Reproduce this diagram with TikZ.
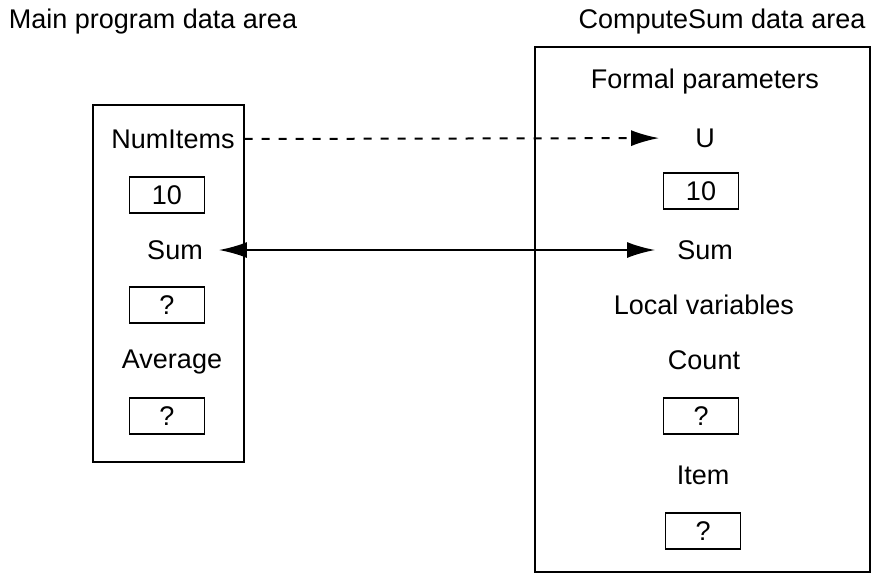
\documentclass[tikz,border=0pt]{standalone}
\usepackage{fontspec}
\setmainfont{Liberation Sans}
\usetikzlibrary{arrows.meta, positioning}

\begin{document}
\begin{tikzpicture}[
        x=1pt, y=-1pt,
        txt/.style={font=\fontsize{27}{32}\selectfont, inner sep=2pt},
        cell/.style={rectangle, draw=black, line width=1.8pt,
                     minimum width=75pt, minimum height=36pt,
                     font=\fontsize{27}{32}\selectfont, inner sep=0pt},
        area/.style={rectangle, draw=black, line width=1.8pt, inner sep=0pt},
        arrow/.style={-{Latex[length=28pt, width=16pt]}, line width=2pt},
    ]
    \useasboundingbox (0,0) rectangle (875,574);

    % ====== 主程序数据区（左） ======
    \node[area, minimum width=151pt, minimum height=357pt] (main) at (168.5,283.5) {};
    \node[txt] (maintitle) at (153,22) {Main program data area};
    \node[txt] (numitems) at (173,139) {NumItems};
    \node[cell] (numval) at (167,195) {10};
    \node[txt] (sumL) at (175,250) {Sum};
    \node[cell] (sumval) at (167,305) {?};
    \node[txt] (average) at (172,362) {Average};
    \node[cell] (avgval) at (167,416) {?};

    % ====== ComputeSum 数据区（右） ======
    \node[area, minimum width=335pt, minimum height=525pt] (cs) at (702.5,309.5) {};
    \node[txt] (cstitle) at (722,22) {ComputeSum data area};
    \node[txt] (formal) at (705,82) {Formal parameters};
    \node[txt] (u) at (705,138) {U};
    \node[cell] (uval) at (701,191) {10};
    \node[txt] (sumR) at (705,250) {Sum};
    \node[txt] (local) at (704,305) {Local variables};
    \node[txt] (count) at (704,360) {Count};
    \node[cell] (countval) at (701,416) {?};
    \node[txt] (item) at (703,475) {Item};
    \node[cell] (itemval) at (703,531) {?};

    % ====== 箭头 ======
    \draw[arrow, dash pattern=on 8pt off 9pt, shorten <=8pt, shorten >=34pt] (numitems.east) -- (u.west);
    \draw[arrow, {Latex[length=28pt, width=16pt]}-{Latex[length=28pt, width=16pt]},
          shorten <=14pt, shorten >=20pt] (sumL.east) -- (sumR.west);

\end{tikzpicture}
\end{document}
